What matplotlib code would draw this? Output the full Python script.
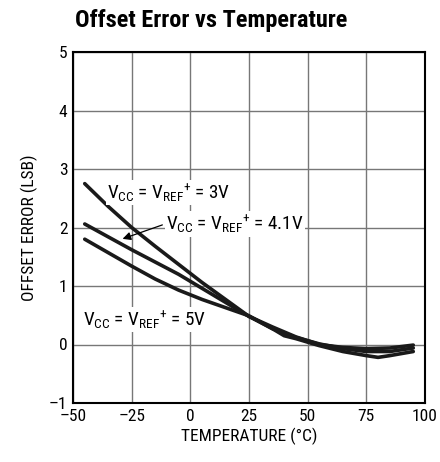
import matplotlib
matplotlib.use("Agg")
import matplotlib.pyplot as plt
from matplotlib import font_manager as fm

names = {f.name for f in fm.fontManager.ttflist}
narrow = [n for n in ["Liberation Sans Narrow", "Roboto Condensed", "Open Sans Condensed"] if n in names]
fam = narrow + ["Liberation Sans", "DejaVu Sans"]
plt.rcParams['font.family'] = fam
plt.rcParams['mathtext.fontset'] = 'custom'
plt.rcParams['mathtext.rm'] = fam[0]
plt.rcParams['mathtext.it'] = fam[0]
plt.rcParams['mathtext.default'] = 'regular'

# Data
temp_3v = [-45, -35, -25, -15, -5, 5, 15, 25, 35, 45, 55, 65, 75, 85, 95]
err_3v = [2.75, 2.36, 2.00, 1.68, 1.37, 1.06, 0.77, 0.48, 0.30, 0.13, 0.00, -0.05, -0.07, -0.06, -0.01]
temp_41v = [-45, -35, -25, -15, -5, 5, 15, 25, 35, 45, 55, 65, 75, 85, 95]
err_41v = [2.06, 1.84, 1.62, 1.41, 1.20, 0.96, 0.72, 0.48, 0.27, 0.12, 0.01, -0.07, -0.12, -0.12, -0.06]
temp_5v = [-45, -35, -25, -15, -5, 5, 15, 25, 35, 40, 45, 55, 65, 75, 80, 85, 95]
err_5v = [1.80, 1.57, 1.34, 1.12, 0.93, 0.77, 0.63, 0.49, 0.27, 0.15, 0.10, -0.02, -0.12, -0.19, -0.22, -0.19, -0.12]

xticks = [-50, -25, 0, 25, 50, 75, 100]
yticks = [-1, 0, 1, 2, 3, 4, 5]

fig = plt.figure(figsize=(4.4, 4.62), dpi=100)
ax = fig.add_axes([73/440, 1-403/462, 352/440, 351/462])

for t, e in [(temp_3v, err_3v), (temp_41v, err_41v), (temp_5v, err_5v)]:
    ax.plot(t, e, color='#1a1a1a', lw=2.6, solid_capstyle='round', solid_joinstyle='round', zorder=3)

ax.set_xlim(-50, 100)
ax.set_ylim(-1, 5)
ax.set_xticks(xticks)
ax.set_yticks(yticks)
ax.set_xticklabels([str(v).replace('-', '\u2013') for v in xticks])
ax.set_yticklabels([str(v).replace('-', '\u2013') for v in yticks])
ax.tick_params(length=0, labelsize=12.5, pad=4, colors='black')
ax.grid(True, color='#777777', lw=1.0, zorder=1)
for s in ax.spines.values():
    s.set_linewidth(1.5)
    s.set_color('black')

ax.set_xlabel('TEMPERATURE (°C)', fontsize=12.5, labelpad=3)
ax.set_ylabel('OFFSET ERROR (LSB)', fontsize=12.5, labelpad=8)

fig.text(75/440, 1-21/462, 'Offset Error vs Temperature', fontsize=17.5, fontweight='bold',
         ha='left', va='center')

bbox = dict(facecolor='white', edgecolor='none', pad=1)
def lab(v):
    return 'V$_{CC}$ = V$_{REF}$$^{+}$ = ' + v
ax.text(-35.5, 2.6, lab('3V'), fontsize=13.8, ha='left', va='center', bbox=bbox, zorder=4)
ax.text(-10.2, 2.06, lab('4.1V'), fontsize=13.8, ha='left', va='center', bbox=bbox, zorder=4)
ax.text(-45.7, 0.42, lab('5V'), fontsize=13.8, ha='left', va='center', bbox=bbox, zorder=4)
ax.annotate('', xy=(-30, 1.79), xytext=(-10.8, 2.06),
            arrowprops=dict(arrowstyle='-|>', color='black', lw=0.9, mutation_scale=12), zorder=5)

fig.savefig('out.png', dpi=100)
